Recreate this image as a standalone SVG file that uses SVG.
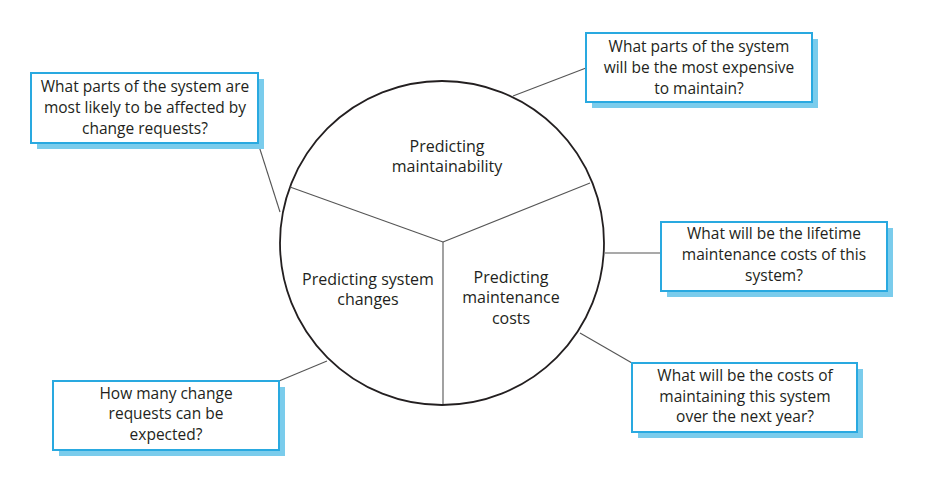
<svg xmlns="http://www.w3.org/2000/svg" width="925" height="488" viewBox="0 0 925 488">
<style>
.shadow{fill:#7accec;stroke:none}
.box{fill:#ffffff;stroke:#29a9e0;stroke-width:2}
.t{font-family:"Open Sans","Liberation Sans",sans-serif;font-size:15.5px;fill:#231f20;text-anchor:middle}
.c{font-family:"Open Sans","Liberation Sans",sans-serif;font-size:16px;fill:#231f20;text-anchor:middle}
.conn{stroke:#555555;stroke-width:1.1;fill:none}
</style>
<rect width="925" height="488" fill="#ffffff"/>
<g id="connectors">
<line class="conn" x1="258" y1="143" x2="280" y2="212"/>
<line class="conn" x1="586" y1="68" x2="513" y2="96"/>
<line class="conn" x1="605" y1="253" x2="661" y2="253"/>
<line class="conn" x1="580" y1="333" x2="632" y2="363"/>
<line class="conn" x1="279" y1="381" x2="327" y2="361"/>
</g>
<g id="circle">
<circle cx="442" cy="243" r="162" fill="#ffffff" stroke="#231f20" stroke-width="1.8"/>
<line class="conn" x1="443" y1="242" x2="290" y2="187"/>
<line class="conn" x1="443" y1="242" x2="590" y2="183"/>
<line class="conn" x1="443" y1="242" x2="443" y2="404"/>
</g>
<g id="seg-maintainability">
<text class="c" x="447" y="152">Predicting</text>
<text class="c" x="447" y="172">maintainability</text>
</g>
<g id="seg-changes">
<text class="c" x="368" y="285">Predicting system</text>
<text class="c" x="368" y="305">changes</text>
</g>
<g id="seg-costs">
<text class="c" x="511" y="283">Predicting</text>
<text class="c" x="511" y="303">maintenance</text>
<text class="c" x="511" y="324">costs</text>
</g>
<g id="q-affected">
<rect class="shadow" x="37" y="79" width="227" height="70"/>
<rect class="box" x="31" y="73" width="227" height="70"/>
<text class="t" x="145" y="92">What parts of the system are</text>
<text class="t" x="145" y="113">most likely to be affected by</text>
<text class="t" x="145" y="134">change requests?</text>
</g>
<g id="q-expensive">
<rect class="shadow" x="592" y="39" width="226" height="69"/>
<rect class="box" x="586" y="33" width="226" height="69"/>
<text class="t" x="699" y="52">What parts of the system</text>
<text class="t" x="699" y="73">will be the most expensive</text>
<text class="t" x="699" y="94">to maintain?</text>
</g>
<g id="q-lifetime">
<rect class="shadow" x="667" y="228" width="226" height="69"/>
<rect class="box" x="661" y="222" width="226" height="69"/>
<text class="t" x="774" y="239">What will be the lifetime</text>
<text class="t" x="774" y="260">maintenance costs of this</text>
<text class="t" x="774" y="281">system?</text>
</g>
<g id="q-nextyear">
<rect class="shadow" x="638" y="369" width="225" height="69"/>
<rect class="box" x="632" y="363" width="225" height="69"/>
<text class="t" x="745" y="381">What will be the costs of</text>
<text class="t" x="745" y="402">maintaining this system</text>
<text class="t" x="745" y="422">over the next year?</text>
</g>
<g id="q-howmany">
<rect class="shadow" x="59" y="387" width="226" height="69"/>
<rect class="box" x="53" y="381" width="226" height="69"/>
<text class="t" x="166" y="399">How many change</text>
<text class="t" x="166" y="419">requests can be</text>
<text class="t" x="166" y="440">expected?</text>
</g>
</svg>
